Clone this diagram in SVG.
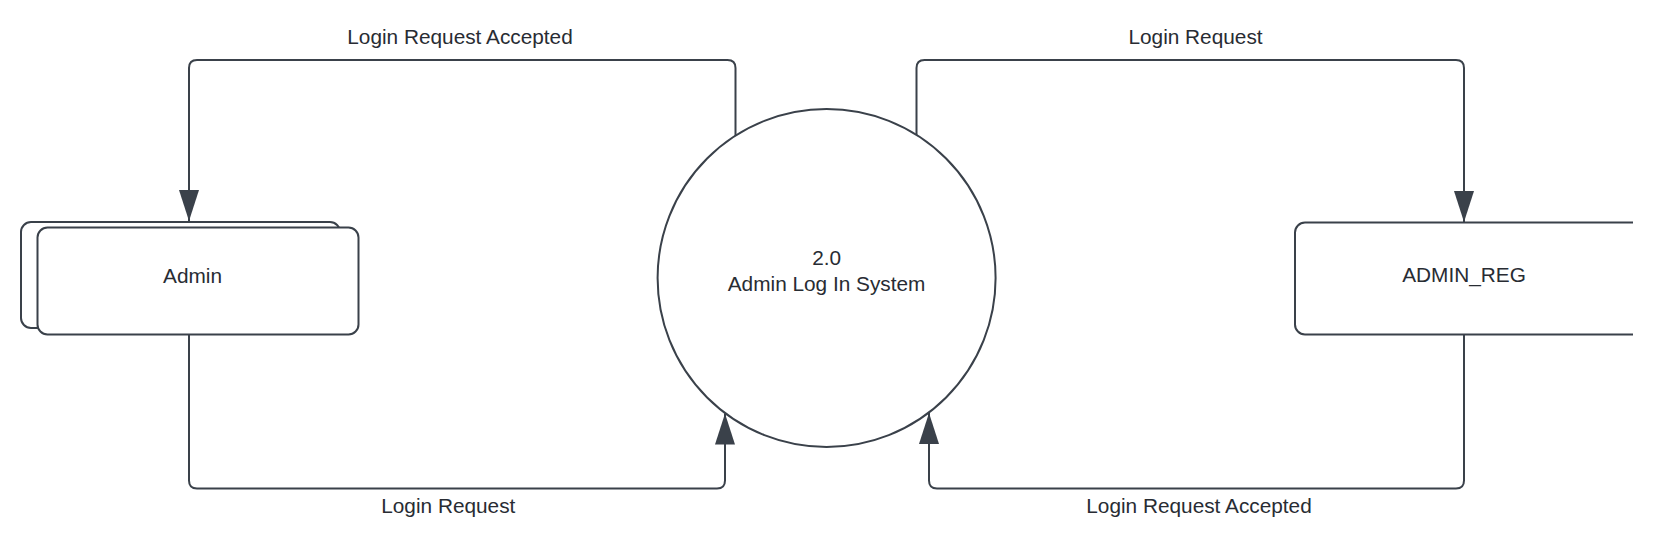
<svg xmlns="http://www.w3.org/2000/svg" width="1654" height="542" viewBox="0 0 1654 542">
<style>
.shape{fill:#ffffff;stroke:#3a414a;stroke-width:2}
.conn{fill:none;stroke:#3a414a;stroke-width:2}
.lbl{font-family:"Liberation Sans",Arial,sans-serif;font-size:20.8px;fill:#282c33;text-anchor:middle}
</style>
<defs>
<marker id="arr" viewBox="0 0 31 20" refX="31" refY="10" markerWidth="31" markerHeight="20" markerUnits="userSpaceOnUse" orient="auto">
<path d="M0,0 L31,10 L0,20 z" fill="#3a414a"/>
</marker>
</defs>
<rect width="1654" height="542" fill="#ffffff"/>
<g id="connectors">
<path class="conn" d="M735.5,136 V68 Q735.5,60 727.5,60 H197 Q189,60 189,68 V221" marker-end="url(#arr)"/>
<path class="conn" d="M916.5,135 V68 Q916.5,60 924.5,60 H1456 Q1464,60 1464,68 V222" marker-end="url(#arr)"/>
<path class="conn" d="M189,334 V480.5 Q189,488.5 197,488.5 H717 Q725,488.5 725,480.5 V413.5" marker-end="url(#arr)"/>
<path class="conn" d="M1464,334 V480.5 Q1464,488.5 1456,488.5 H937 Q929,488.5 929,480.5 V413" marker-end="url(#arr)"/>
<text class="lbl" x="460" y="44">Login Request Accepted</text>
<text class="lbl" x="1195.5" y="44">Login Request</text>
<text class="lbl" x="448.3" y="513.3">Login Request</text>
<text class="lbl" x="1199" y="513.3">Login Request Accepted</text>
</g>
<g id="admin">
<rect class="shape" x="21" y="222" width="319" height="106" rx="10"/>
<rect class="shape" x="37.5" y="227.5" width="321" height="107" rx="10"/>
<text class="lbl" x="192.5" y="282.7">Admin</text>
</g>
<g id="process">
<circle class="shape" cx="826.6" cy="278" r="169"/>
<text class="lbl" x="826.6" y="265">2.0</text>
<text class="lbl" x="826.6" y="290.7">Admin Log In System</text>
</g>
<g id="admin_reg">
<path class="shape" d="M1633,222.5 H1305 A10,10 0 0 0 1295,232.5 V324.5 A10,10 0 0 0 1305,334.5 H1633"/>
<text class="lbl" x="1464" y="282.3">ADMIN_REG</text>
</g>
</svg>
